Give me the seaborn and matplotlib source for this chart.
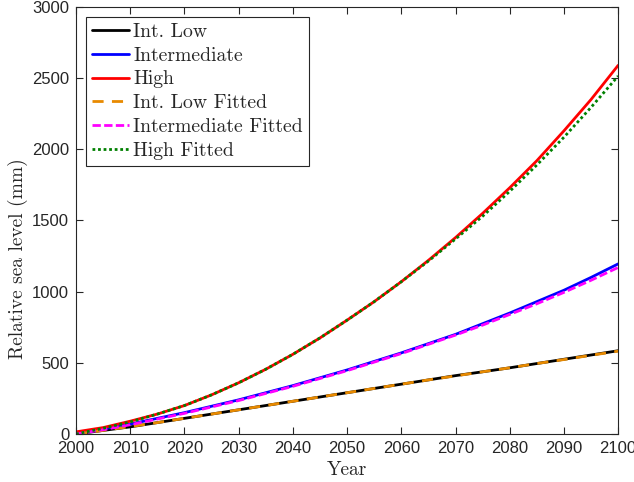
import matplotlib
matplotlib.use('Agg')
import matplotlib.pyplot as plt
import seaborn as sns
import pandas as pd

years = list(range(2000, 2101, 5))
int_low = [0, 25, 50, 80, 110, 140, 170, 200, 230, 260, 290, 320, 350, 380, 410, 437, 465, 495, 525, 555, 585]
intermediate = [5, 35, 70, 110, 150, 195, 240, 290, 340, 395, 450, 510, 570, 635, 700, 775, 850, 930, 1010, 1100, 1195]
high = [15, 45, 90, 140, 200, 275, 360, 455, 560, 675, 800, 930, 1070, 1220, 1380, 1550, 1730, 1920, 2130, 2350, 2590]
int_low_fit = [0, 25, 52, 80, 110, 140, 170, 200, 230, 260, 290, 320, 350, 380, 408, 437, 465, 495, 523, 553, 582]
intermediate_fit = [0, 30, 65, 105, 145, 190, 235, 285, 335, 390, 445, 505, 565, 630, 695, 765, 840, 915, 995, 1080, 1170]
high_fit = [0, 40, 85, 140, 200, 275, 360, 455, 560, 675, 800, 930, 1070, 1215, 1370, 1530, 1705, 1890, 2085, 2295, 2515]

names = ['Int. Low', 'Intermediate', 'High', 'Int. Low Fitted', 'Intermediate Fitted', 'High Fitted']
series = [int_low, intermediate, high, int_low_fit, intermediate_fit, high_fit]
colors = ['black', 'blue', 'red', '#E88A00', 'magenta', 'green']
styles = ['-', '-', '-', (0, (4, 3)), (0, (3, 1.2)), (0, (1, 1))]

sns.set_style('ticks')
plt.rcParams['font.family'] = ['Liberation Sans', 'DejaVu Sans']

fig, ax = plt.subplots(figsize=(6.34, 4.82), dpi=100)
for name, vals, c, ls in zip(names, series, colors, styles):
    df = pd.DataFrame({'Year': years, 'val': vals})
    sns.lineplot(data=df, x='Year', y='val', ax=ax, color=c, linestyle=ls, linewidth=2, label=name)

ax.set_xlim(2000, 2100)
ax.set_ylim(0, 3000)
ax.set_xticks(range(2000, 2101, 10))
ax.set_yticks(range(0, 3001, 500))
ax.tick_params(direction='in', top=True, right=True, labelsize=12, colors='#262626', length=5, width=0.8, pad=5)
for s in ax.spines.values():
    s.set_color('#262626')
    s.set_linewidth(0.8)
ax.set_xlabel('Year', fontfamily='cmr10', fontsize=14)
ax.set_ylabel('Relative sea level (mm)', fontfamily='cmr10', fontsize=14)
ax.xaxis.set_label_coords(0.5, -0.063)
ax.yaxis.set_label_coords(-0.088, 0.41)

leg = ax.legend(loc='upper left', prop={'family': 'cmr10', 'size': 14.2}, frameon=True, fancybox=False,
                handlelength=1.9, handletextpad=0.2, borderpad=0.3, labelspacing=0.3,
                borderaxespad=0.5, edgecolor='#262626', framealpha=1)
leg.get_frame().set_linewidth(0.8)

fig.subplots_adjust(left=0.12, right=0.975, top=0.9855, bottom=0.0996)
fig.savefig('out.png', dpi=100)
